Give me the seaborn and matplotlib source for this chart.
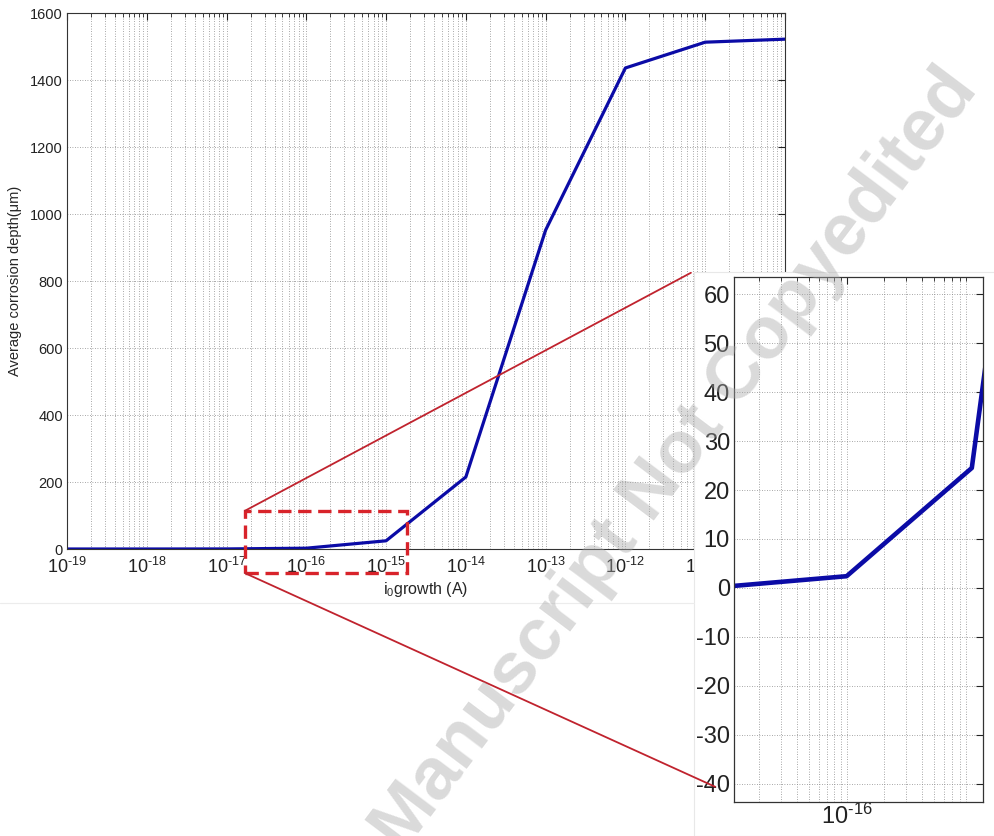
import numpy as np
import matplotlib
matplotlib.use("Agg")
import matplotlib.pyplot as plt
import seaborn as sns
from matplotlib.patches import Rectangle, ConnectionPatch
from matplotlib.lines import Line2D
from matplotlib.ticker import LogLocator, NullFormatter, FixedLocator, FuncFormatter

# ---- data ----
i0_growth = [1e-19, 1e-18, 1e-17, 1e-16, 1e-15, 1e-14, 1e-13, 1e-12, 1e-11, 1e-10]
corrosion_depth = [0.0, 0.0, 0.2, 2.4, 24.5, 215.0, 952.0, 1436.0, 1513.0, 1522.0]

main_yticks = [0, 200, 400, 600, 800, 1000, 1200, 1400, 1600]
inset_yticks = [-40, -30, -20, -10, 0, 10, 20, 30, 40, 50, 60]
inset_xticks = [1e-16]

main_xlim = (1e-19, 1e-10)
main_ylim = (0, 1600)
inset_xlim = (1.26e-17, 1.23e-15)
inset_ylim = (-43.7, 63.5)

zoom_box_x = (1.7e-17, 1.82e-15)
zoom_box_y = (-72, 114)

xlabel = "i$_0$growth (A)"
ylabel = "Average corrosion depth(\u03bcm)"
watermark = "Manuscript Not Copyedited"

# ---- style ----
sns.set_style("white")
plt.rcParams["font.family"] = ["Liberation Sans", "DejaVu Sans"]
plt.rcParams["mathtext.fontset"] = "custom"
plt.rcParams["mathtext.rm"] = "Liberation Sans"
plt.rcParams["mathtext.it"] = "Liberation Sans"
plt.rcParams["mathtext.default"] = "regular"
plt.rcParams["axes.unicode_minus"] = False


def pow10_label(v, pos):
    e = int(round(np.log10(v)))
    if e < 0:
        return r"$\mathdefault{10^{\text{-}%d}}$" % (-e)
    return r"$\mathdefault{10^{%d}}$" % e


line_color = "#0b0ba6"
red = "#c0232e"
grid_kw = dict(linestyle=(0, (1, 2)), color="#8a8a8a", linewidth=0.6)

fig = plt.figure(figsize=(9.95, 8.36), dpi=100)
fig.patch.set_facecolor("white")

# ---- main axes ----
ax = fig.add_axes([0.0673, 0.3433, 0.7216, 0.6411], zorder=1)
sns.lineplot(x=i0_growth, y=corrosion_depth, ax=ax, color=line_color, linewidth=2.3)
ax.set_xscale("log")
ax.set_xlim(*main_xlim)
ax.set_ylim(*main_ylim)
ax.set_yticks(main_yticks)
ax.xaxis.set_major_locator(LogLocator(base=10, numticks=20))
ax.xaxis.set_major_formatter(FuncFormatter(pow10_label))
ax.xaxis.set_minor_locator(LogLocator(base=10, subs=np.arange(2, 10), numticks=200))
ax.xaxis.set_minor_formatter(NullFormatter())
ax.tick_params(which="both", direction="in", top=True, right=True, colors="#222222")
ax.tick_params(which="major", length=5, width=0.8)
ax.tick_params(which="minor", length=3, width=0.6)
ax.tick_params(axis="x", labelsize=13, pad=6)
ax.tick_params(axis="y", labelsize=10.5, pad=3)
ax.grid(True, which="both", axis="x", **grid_kw)
ax.grid(True, which="major", axis="y", **grid_kw)
for s in ax.spines.values():
    s.set_color("#333333")
    s.set_linewidth(0.8)
ax.set_xlabel(xlabel, fontsize=11.5, labelpad=2)
ax.set_ylabel(ylabel, fontsize=10.5, labelpad=6)

# zoom box
box = Rectangle((zoom_box_x[0], zoom_box_y[0]), zoom_box_x[1] - zoom_box_x[0],
                zoom_box_y[1] - zoom_box_y[0], transform=ax.transData, fill=False,
                edgecolor="#d8232a", linestyle=(0, (4, 2)), linewidth=2.4,
                clip_on=False, zorder=5)
ax.add_patch(box)

# white backing for inset
fig.add_artist(Rectangle((0.6975, 0.0), 0.3025, 0.6746, transform=fig.transFigure,
                         facecolor="white", edgecolor="#e8e8e8", linewidth=0.8, zorder=2))
fig.add_artist(Line2D([0.0, 0.6975], [1 - 603 / 836, 1 - 603 / 836], transform=fig.transFigure,
                      color="#ececec", linewidth=0.8, zorder=2))

# ---- inset axes ----
ax_in = fig.add_axes([0.7377, 0.0407, 0.2503, 0.628], zorder=3)
sns.lineplot(x=i0_growth, y=corrosion_depth, ax=ax_in, color=line_color, linewidth=3.3)
ax_in.set_xscale("log")
ax_in.set_xlim(*inset_xlim)
ax_in.set_ylim(*inset_ylim)
ax_in.set_yticks(inset_yticks)
ax_in.xaxis.set_major_locator(FixedLocator(inset_xticks))
ax_in.xaxis.set_major_formatter(FuncFormatter(pow10_label))
ax_in.xaxis.set_minor_locator(LogLocator(base=10, subs=np.arange(2, 10), numticks=200))
ax_in.xaxis.set_minor_formatter(NullFormatter())
ax_in.tick_params(which="both", direction="in", top=True, right=True, colors="#222222")
ax_in.tick_params(which="major", length=5, width=0.8)
ax_in.tick_params(which="minor", length=3, width=0.6)
ax_in.tick_params(axis="both", labelsize=17)
ax_in.tick_params(axis="x", pad=1)
ax_in.tick_params(axis="y", pad=3)
ax_in.grid(True, which="both", axis="x", **grid_kw)
ax_in.grid(True, which="major", axis="y", **grid_kw)
for s in ax_in.spines.values():
    s.set_color("#333333")
    s.set_linewidth(0.9)
ax_in.set_xlabel("")
ax_in.set_ylabel("")

# connectors
c1 = ConnectionPatch(xyA=(zoom_box_x[0], zoom_box_y[1]), coordsA=ax.transData,
                     xyB=(-0.173, 1.008), coordsB=ax_in.transAxes,
                     color=red, linewidth=1.3, zorder=6)
c2 = ConnectionPatch(xyA=(zoom_box_x[0], zoom_box_y[0]), coordsA=ax.transData,
                     xyB=(-0.076, 0.029), coordsB=ax_in.transAxes,
                     color=red, linewidth=1.3, zorder=6)
fig.add_artist(c1)
fig.add_artist(c2)

# watermark
fig.text(675 / 995, 1 - 460 / 836, watermark, rotation=53, fontsize=53, fontweight="bold",
         color="#a8a8a8", alpha=0.42, ha="center", va="center", zorder=10,
         rotation_mode="anchor")

fig.savefig("out.png", dpi=100, facecolor="white")
